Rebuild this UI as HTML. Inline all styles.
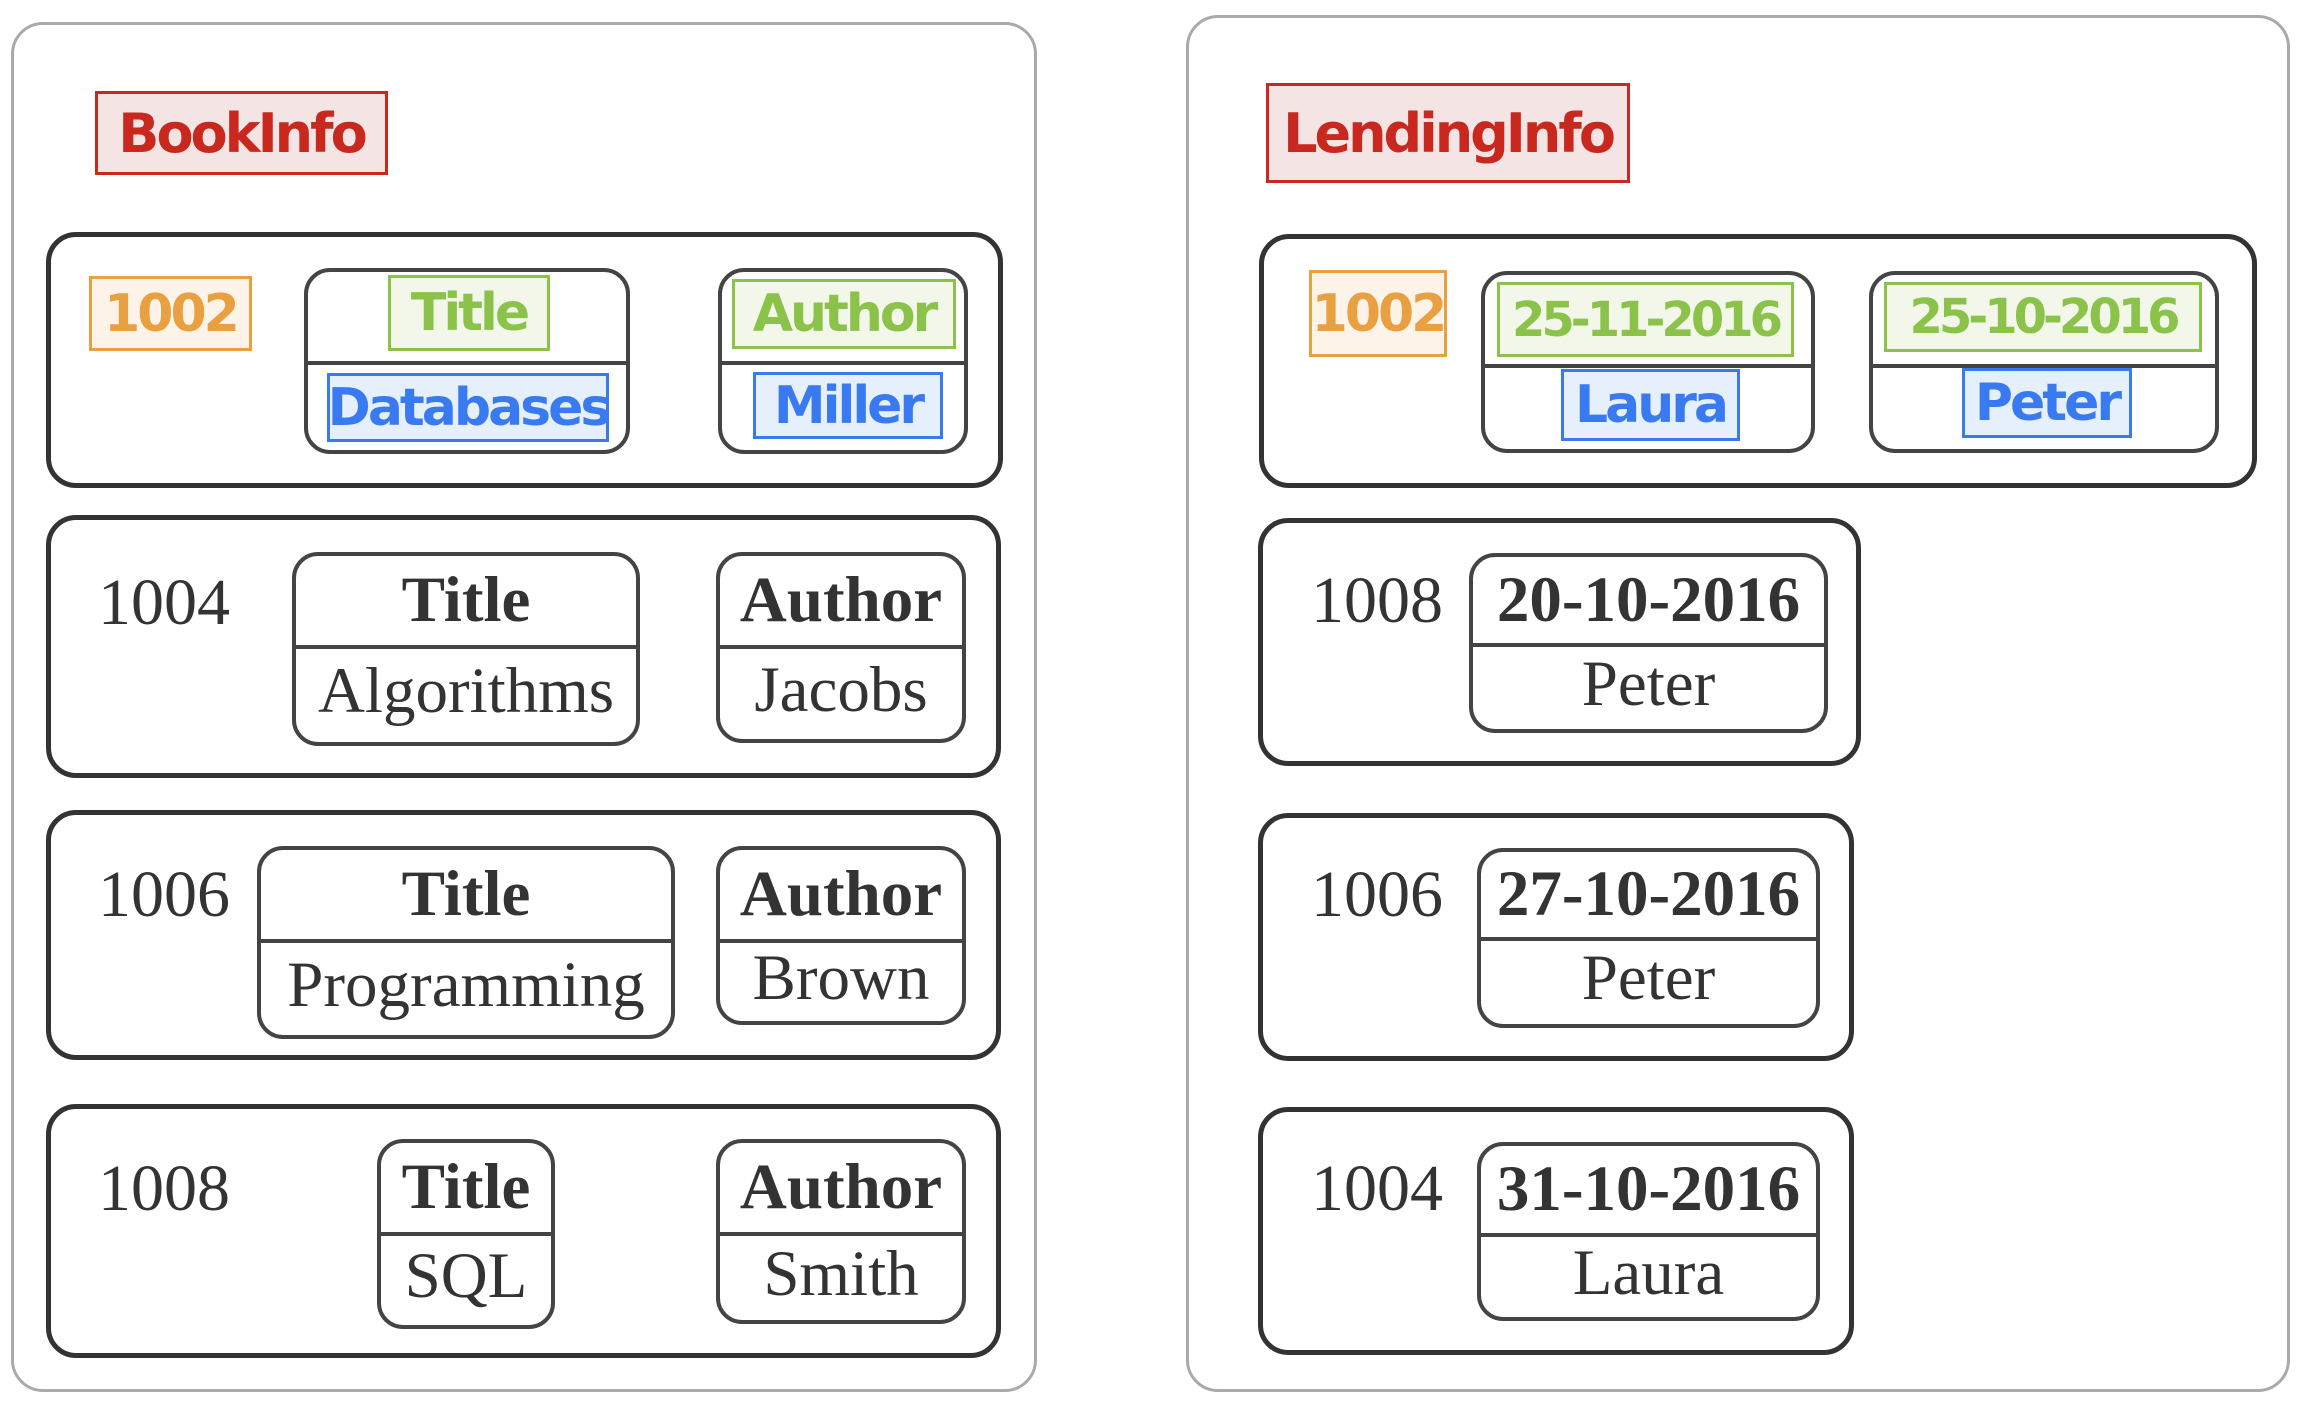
<!DOCTYPE html>
<html><head><meta charset="utf-8"><style>
body{margin:0;width:2302px;height:1403px;background:#fff;position:relative;overflow:hidden;font-family:"Liberation Serif",serif;color:#333}
div{box-sizing:border-box;position:absolute}
.outer{border:3px solid #aaa;border-radius:32px}
.row{border:5px solid #333;border-radius:30px}
.pill{border:4px solid #444;border-radius:26px;overflow:hidden}
.pill .t,.pill .b{position:absolute;left:0;right:0;display:flex;align-items:center;justify-content:center;font-size:65px;white-space:nowrap}
.pill .t{top:0;font-weight:bold;border-bottom:4px solid #444}
.pill .b{bottom:0}
.num{font-size:66px;white-space:nowrap;line-height:1}
.hl{display:flex;align-items:center;justify-content:center;font-family:"DejaVu Sans",sans-serif;font-weight:bold;border:3px solid;white-space:nowrap;letter-spacing:-3px}
.red{border-color:#c8281e;background:#f5e4e4;color:#c8281e;font-size:54px}
.org{border-color:#e8a040;background:#fdf3e8;color:#e8a040;font-size:52px}
.grn{border-color:#8bc34a;background:#f2f7ea;color:#8bc34a;font-size:52px}
.blu{border-color:#3a7af0;background:#e6effc;color:#3a7af0;font-size:52px}
.dt{font-size:48px;letter-spacing:-4px}
</style></head><body>
<!-- LEFT -->
<div class="outer" style="left:11px;top:22px;width:1026px;height:1370px"></div>
<div class="hl red" style="left:95px;top:91px;width:293px;height:84px">BookInfo</div>

<div class="row" style="left:46px;top:232px;width:957px;height:256px"></div>
<div class="hl org" style="left:89px;top:276px;width:163px;height:75px">1002</div>
<div class="pill" style="left:304px;top:268px;width:326px;height:186px"><div class="t" style="height:93px"></div></div>
<div class="hl grn" style="left:388px;top:275px;width:162px;height:76px">Title</div>
<div class="hl blu" style="left:327px;top:373px;width:282px;height:69px">Databases</div>
<div class="pill" style="left:718px;top:268px;width:250px;height:186px"><div class="t" style="height:93px"></div></div>
<div class="hl grn" style="left:732px;top:279px;width:224px;height:70px">Author</div>
<div class="hl blu" style="left:753px;top:372px;width:190px;height:67px">Miller</div>

<div class="row" style="left:46px;top:515px;width:955px;height:263px"></div>
<div class="num" style="left:98px;top:570px">1004</div>
<div class="pill" style="left:292px;top:552px;width:348px;height:194px"><div class="t" style="height:93px">Title</div><div class="b" style="height:101px">Algorithms</div></div>
<div class="pill" style="left:716px;top:552px;width:250px;height:191px"><div class="t" style="height:93px">Author</div><div class="b" style="height:98px">Jacobs</div></div>

<div class="row" style="left:46px;top:810px;width:955px;height:250px"></div>
<div class="num" style="left:98px;top:862px">1006</div>
<div class="pill" style="left:257px;top:846px;width:418px;height:193px"><div class="t" style="height:93px">Title</div><div class="b" style="height:100px">Programming</div></div>
<div class="pill" style="left:716px;top:846px;width:250px;height:179px"><div class="t" style="height:93px">Author</div><div class="b" style="height:86px">Brown</div></div>

<div class="row" style="left:46px;top:1104px;width:955px;height:254px"></div>
<div class="num" style="left:98px;top:1156px">1008</div>
<div class="pill" style="left:377px;top:1139px;width:178px;height:190px"><div class="t" style="height:93px">Title</div><div class="b" style="height:97px">SQL</div></div>
<div class="pill" style="left:716px;top:1139px;width:250px;height:185px"><div class="t" style="height:93px">Author</div><div class="b" style="height:92px">Smith</div></div>

<!-- RIGHT -->
<div class="outer" style="left:1186px;top:15px;width:1104px;height:1377px"></div>
<div class="hl red" style="left:1266px;top:83px;width:364px;height:100px">LendingInfo</div>

<div class="row" style="left:1259px;top:234px;width:998px;height:254px"></div>
<div class="hl org" style="left:1309px;top:270px;width:138px;height:87px">1002</div>
<div class="pill" style="left:1481px;top:271px;width:334px;height:182px"><div class="t" style="height:93px"></div></div>
<div class="hl grn dt" style="left:1497px;top:282px;width:297px;height:75px">25-11-2016</div>
<div class="hl blu" style="left:1561px;top:369px;width:179px;height:72px">Laura</div>
<div class="pill" style="left:1869px;top:271px;width:350px;height:182px"><div class="t" style="height:93px"></div></div>
<div class="hl grn dt" style="left:1884px;top:282px;width:318px;height:70px">25-10-2016</div>
<div class="hl blu" style="left:1962px;top:368px;width:170px;height:70px">Peter</div>

<div class="row" style="left:1258px;top:518px;width:603px;height:248px"></div>
<div class="num" style="left:1311px;top:568px">1008</div>
<div class="pill" style="left:1469px;top:553px;width:359px;height:180px"><div class="t" style="height:90px">20-10-2016</div><div class="b" style="height:90px">Peter</div></div>

<div class="row" style="left:1258px;top:813px;width:596px;height:248px"></div>
<div class="num" style="left:1311px;top:862px">1006</div>
<div class="pill" style="left:1477px;top:848px;width:343px;height:180px"><div class="t" style="height:89px">27-10-2016</div><div class="b" style="height:91px">Peter</div></div>

<div class="row" style="left:1258px;top:1107px;width:596px;height:248px"></div>
<div class="num" style="left:1311px;top:1156px">1004</div>
<div class="pill" style="left:1477px;top:1142px;width:343px;height:179px"><div class="t" style="height:91px">31-10-2016</div><div class="b" style="height:88px">Laura</div></div>
</body></html>
